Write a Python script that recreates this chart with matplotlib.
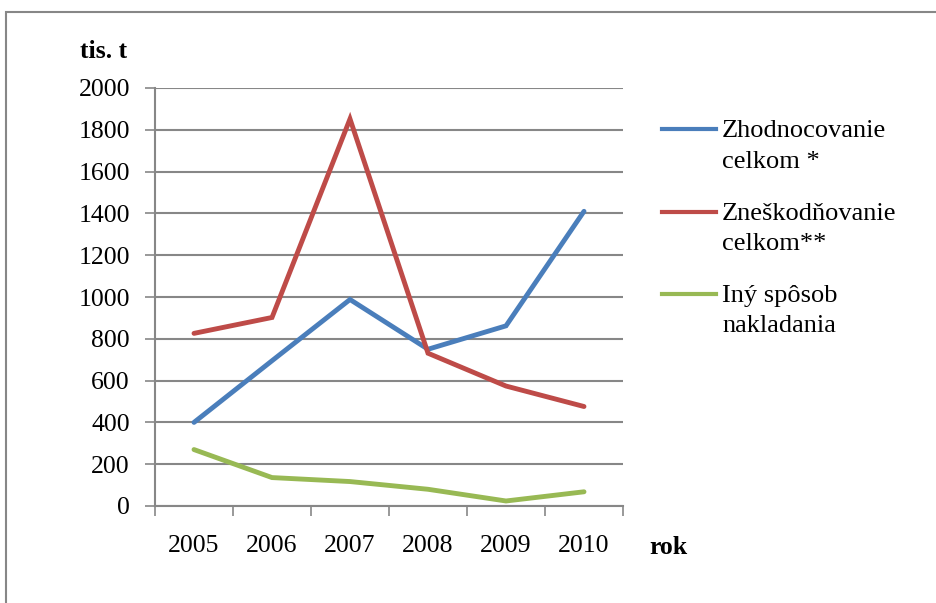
import numpy as np
import matplotlib
matplotlib.use("Agg")
import matplotlib.pyplot as plt
from matplotlib.patches import Rectangle
from matplotlib.lines import Line2D

# data (tis. t)
years = ["2005", "2006", "2007", "2008", "2009", "2010"]
zhodnocovanie = [400, 695, 988, 750, 862, 1410]
zneskodnovanie = [826, 902, 1852, 731, 574, 476]
iny_sposob = [270, 136, 117, 80, 24, 68]
labels = ["Zhodnocovanie\ncelkom *", "Zneškodňovanie\ncelkom**", "Iný spôsob\nnakladania"]
colors = ["#4A7EBB", "#BE4B48", "#98B954"]
y_ticks = list(range(0, 2001, 200))

plt.rcParams["font.family"] = ["Liberation Serif", "DejaVu Serif"]
grey = "#878787"
W, H = 936, 603

fig = plt.figure(figsize=(W / 100, H / 100), dpi=100)
ax = fig.add_axes([155 / W, 1 - 506 / H, 468 / W, 418 / H])

# outer chart frame
fig.patches.append(Rectangle((6 / W, -0.1), 1.2, 1 - 12 / H + 0.1,
                             transform=fig.transFigure, fill=False,
                             edgecolor=grey, linewidth=1.5))

x = np.arange(len(years))
for series, c in zip([zhodnocovanie, zneskodnovanie, iny_sposob], colors):
    ax.plot(x, series, color=c, linewidth=3.5, solid_capstyle="round",
            solid_joinstyle="miter")

ax.set_ylim(0, 2000)
ax.set_xlim(-0.5, len(years) - 0.5)
ax.set_yticks(y_ticks)
ax.yaxis.grid(True, color=grey, linewidth=1.5)
ax.set_axisbelow(True)

ax.set_xticks(np.arange(-0.5, len(years)))
ax.set_xticklabels([])
ax.set_xticks(x, minor=True)
ax.set_xticklabels(years, minor=True)
ax.tick_params(axis="x", which="major", length=7, width=1.2, color=grey, direction="out")
ax.tick_params(axis="x", which="minor", length=0, pad=21, labelsize=18.5)
ax.tick_params(axis="y", length=7, width=1.2, color=grey, direction="out", pad=11, labelsize=18.5)

for s in ["top", "right"]:
    ax.spines[s].set_visible(False)
for s in ["left", "bottom"]:
    ax.spines[s].set_color(grey)
    ax.spines[s].set_linewidth(1.5)

fig.text(104 / W, 1 - 51 / H, "tis. t", fontsize=18.5, fontweight="bold",
         ha="center", va="center")
fig.text(668 / W, 1 - 548 / H, "rok", fontsize=18.5, fontweight="bold",
         ha="center", va="center")

# legend: line aligned with the first line of each label
legend_y = [129, 212, 294]
for lab, c, ly in zip(labels, colors, legend_y):
    fig.add_artist(Line2D([662 / W, 716 / W], [1 - ly / H] * 2, color=c,
                          linewidth=3, transform=fig.transFigure))
    fig.text(722 / W, 1 - (ly - 9) / H, lab, fontsize=19, ha="left", va="top",
             linespacing=1.5)

fig.savefig("out.png", dpi=100)
